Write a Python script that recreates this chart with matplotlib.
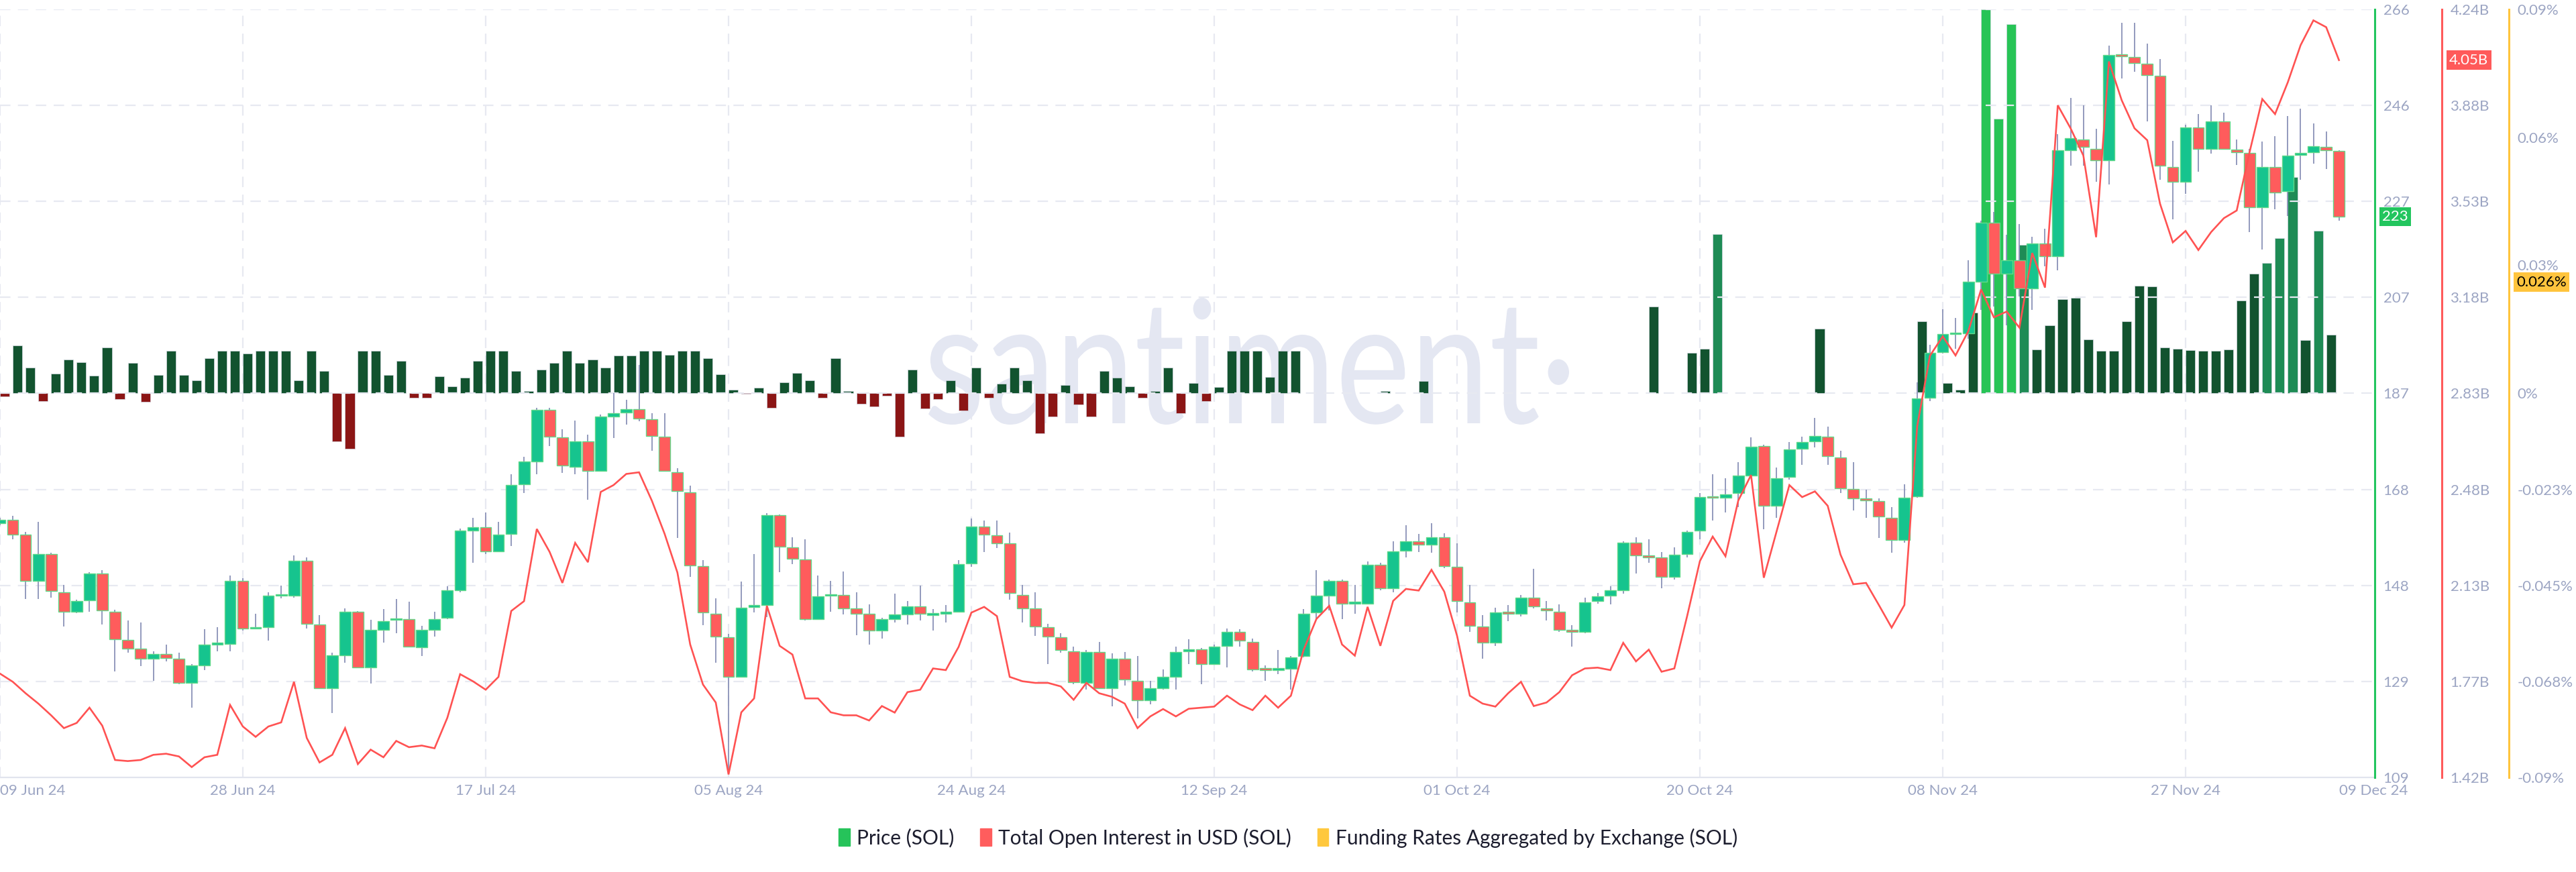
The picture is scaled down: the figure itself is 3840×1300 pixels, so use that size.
import matplotlib
matplotlib.use("Agg")
import matplotlib.pyplot as plt
from matplotlib.patches import Patch, PathPatch
from matplotlib.textpath import TextPath
from matplotlib.font_manager import FontProperties
from matplotlib.transforms import Affine2D, IdentityTransform, blended_transform_factory
import numpy as np

plt.rcParams['font.family'] = ['Lato', 'DejaVu Sans']

# ---------------- data (day index 0 = 09 Jun 24) ----------------
opens = [160.9,161.6,158.6,149.2,154.7,146.9,142.8,145.2,150.7,142.9,137.1,135.3,133.2,134.2,133.2,128.3,131.9,136.2,136.3,149.1,
         139.4,139.7,146.1,146.2,153.3,140.3,127.3,134.0,142.9,131.5,139.2,141.2,141.4,135.6,139.2,141.6,147.3,159.5,160.2,155.2,
         158.8,168.9,173.6,184.1,178.5,172.5,177.7,171.7,182.8,183.6,184.3,182.2,178.6,171.4,167.3,152.2,142.5,137.6,129.6,143.8,
         144.2,162.6,156.0,153.6,141.3,146.1,146.3,143.5,142.4,139.0,141.4,142.3,143.9,142.2,142.5,142.9,152.7,160.3,158.5,156.8,
         146.3,143.5,139.7,137.6,134.8,128.3,134.6,127.3,133.2,128.8,124.8,127.3,129.6,134.8,135.2,132.2,135.9,138.7,136.7,131.1,
         131.0,131.2,133.8,142.7,146.2,149.2,144.5,144.5,152.4,147.6,155.3,157.3,156.6,158.1,152.1,144.8,139.8,136.6,142.9,142.5,
         145.8,143.5,142.9,139.1,138.7,145.1,146.1,147.2,157.0,154.4,153.9,150.0,154.7,159.4,166.5,166.1,167.1,170.7,176.7,164.5,
         170.4,176.2,177.7,178.7,174.4,168.0,166.0,165.5,162.1,157.5,166.4,186.6,195.9,199.6,199.8,210.3,222.3,212.0,214.7,209.0,
         218.1,215.5,237.2,239.4,237.5,235.1,256.7,256.2,254.8,252.4,233.8,230.7,241.9,237.5,243.0,237.3,236.6,225.5,233.8,228.8,
         236.2,236.8,237.9,237.0]
highs = [162.0,162.4,159.2,161.2,154.9,148.4,145.3,150.9,151.3,143.3,141.1,140.6,134.8,136.1,134.5,132.1,139.3,139.7,150.2,149.7,
         142.5,146.9,148.2,154.4,153.9,142.2,134.5,143.6,143.0,141.2,143.4,145.5,144.9,140.0,142.9,148.1,159.8,162.1,163.1,161.2,
         171.0,174.5,184.5,184.5,180.1,181.9,179.0,183.2,187.5,186.2,193.3,183.5,183.5,172.2,168.6,153.4,145.6,138.4,149.0,154.7,
         163.0,162.8,158.1,157.6,150.3,149.2,151.1,146.9,144.3,141.6,146.6,145.0,148.2,143.4,144.2,153.4,161.9,161.5,161.5,159.1,
         148.4,146.9,140.4,138.5,135.7,135.0,136.7,134.3,134.6,133.8,128.8,131.1,135.7,137.2,135.4,136.2,139.5,139.3,137.4,131.9,
         135.0,133.8,143.4,151.3,149.5,149.5,148.4,153.1,152.9,157.3,160.5,158.7,161.0,158.9,156.8,148.4,142.2,143.7,144.2,146.3,
         151.6,145.1,144.4,140.1,145.8,146.7,148.1,157.3,158.1,157.6,155.0,156.0,159.4,167.1,170.9,170.1,173.4,178.5,177.0,172.3,
         177.5,178.6,182.5,180.7,175.7,173.4,167.8,166.0,164.2,168.9,189.8,197.4,204.7,202.9,214.7,222.8,224.6,219.9,222.1,219.5,
         221.1,240.4,247.8,246.4,241.5,258.5,263.2,263.2,259.0,255.8,239.1,242.4,244.6,246.4,244.8,239.3,237.5,238.9,240.1,244.1,
         245.7,242.7,241.0,237.2]
lows = [160.5,157.6,145.5,145.5,145.8,139.9,142.6,142.8,140.3,130.6,134.5,131.7,128.7,132.7,128.0,123.3,130.9,134.8,134.8,139.0,
        139.3,136.9,145.6,145.8,139.4,127.2,122.2,132.4,131.3,128.2,136.5,138.5,135.6,133.8,137.8,141.3,146.9,152.8,154.7,155.0,
        156.3,167.1,171.0,176.7,171.2,171.0,165.7,171.5,178.3,181.1,181.8,175.7,171.7,157.9,150.0,140.1,132.4,109.7,129.6,142.7,
        141.8,151.0,152.6,141.1,141.3,142.9,142.3,138.0,136.1,137.4,140.6,140.3,141.1,139.0,140.6,142.7,152.1,155.0,155.9,145.3,
        140.6,137.9,132.2,134.5,128.0,127.0,127.3,123.5,127.8,121.0,124.0,127.0,127.0,132.2,128.0,132.0,131.5,135.7,130.6,128.7,
        130.1,127.0,133.6,141.1,143.2,141.3,142.4,144.3,147.2,146.9,153.9,155.0,154.9,151.8,142.7,138.8,133.2,135.9,140.9,141.9,
        143.5,141.1,138.8,135.7,138.5,144.5,144.3,146.6,150.7,152.8,147.7,149.5,153.9,157.6,161.5,163.1,164.2,170.5,159.7,162.1,
        169.9,172.9,176.5,172.9,167.1,163.6,162.0,157.9,154.9,157.0,166.2,185.9,195.6,196.6,198.7,204.5,205.3,201.4,207.3,204.5,
        213.4,212.6,234.0,234.0,230.7,230.2,251.9,253.2,243.1,231.2,223.1,228.3,232.8,236.5,237.3,234.2,220.5,216.9,225.1,223.7,
        231.2,234.4,233.3,222.8]
closes = [161.6,158.6,149.2,154.7,147.1,142.9,145.1,150.7,143.1,137.3,135.3,133.3,134.2,133.4,128.3,131.9,136.2,136.3,149.1,139.4,
          139.6,146.1,146.3,153.3,140.4,127.3,134.0,142.9,131.5,139.1,141.0,141.5,135.7,139.1,141.4,147.2,159.4,160.2,155.2,158.6,
          168.8,173.5,184.1,178.6,172.7,177.7,171.7,182.7,183.5,184.3,182.3,178.8,171.7,167.5,152.3,142.7,137.8,129.6,143.7,144.2,
          162.6,156.2,153.7,141.3,146.0,146.3,143.6,142.5,139.0,141.4,142.3,143.9,142.4,142.3,142.9,152.6,160.3,158.6,156.8,146.7,
          143.6,139.8,137.8,135.0,128.5,134.6,127.3,133.2,129.0,124.8,127.3,129.6,134.6,135.2,132.2,135.7,138.7,136.9,131.1,131.0,
          131.2,133.6,142.5,146.1,149.2,144.5,144.6,152.4,147.7,155.2,157.3,156.6,158.1,152.2,145.1,140.0,136.6,142.7,142.5,145.8,
          144.0,143.2,139.2,138.8,144.8,146.0,147.2,157.0,154.4,154.0,150.0,154.5,159.2,166.3,166.1,166.9,170.7,176.6,164.5,170.2,
          176.1,177.6,178.8,174.6,168.1,166.0,165.6,162.3,157.5,166.2,186.5,195.8,199.6,199.9,210.3,222.3,212.0,214.7,209.0,218.1,
          215.5,237.2,239.6,237.8,235.1,256.7,256.4,255.0,252.5,234.0,230.7,241.9,237.5,243.0,237.5,236.8,225.5,233.8,228.6,236.1,
          236.6,238.0,237.2,223.6]
open_interest_b = [1.801,1.771,1.729,1.691,1.648,1.601,1.620,1.676,1.610,1.484,1.480,1.484,1.503,1.507,1.497,1.458,1.494,1.503,1.686,1.607,
                   1.569,1.607,1.622,1.771,1.565,1.475,1.503,1.601,1.469,1.522,1.494,1.554,1.531,1.537,1.527,1.639,1.799,1.773,1.742,1.789,
                   2.031,2.067,2.332,2.248,2.134,2.281,2.210,2.468,2.493,2.534,2.540,2.436,2.314,2.172,1.908,1.761,1.695,1.431,1.659,1.710,
                   2.050,1.903,1.871,1.710,1.710,1.659,1.648,1.648,1.629,1.682,1.658,1.733,1.742,1.820,1.814,1.899,2.025,2.046,2.012,1.789,
                   1.773,1.767,1.767,1.754,1.705,1.767,1.729,1.716,1.691,1.601,1.644,1.671,1.644,1.672,1.676,1.680,1.720,1.688,1.667,1.720,
                   1.676,1.720,1.889,2.002,2.050,1.908,1.867,2.046,1.903,2.068,2.112,2.106,2.182,2.102,1.940,1.720,1.691,1.680,1.729,1.771,
                   1.682,1.695,1.733,1.795,1.820,1.823,1.814,1.914,1.846,1.889,1.808,1.820,2.012,2.214,2.304,2.232,2.436,2.530,2.153,2.323,
                   2.493,2.449,2.470,2.417,2.238,2.129,2.134,2.053,1.970,2.053,2.709,2.968,3.039,2.969,3.058,3.211,3.109,3.130,3.071,3.345,
                   3.218,3.887,3.803,3.703,3.403,4.048,3.906,3.803,3.759,3.526,3.384,3.426,3.356,3.422,3.473,3.501,3.714,3.910,3.855,3.972,
                   4.108,4.199,4.174,4.053]
N = None
funding_pct = [-0.0007,0.0112,0.0061,-0.0018,0.0046,0.0079,0.0073,0.0041,0.0108,-0.0013,0.0072,-0.0020,0.0043,0.0100,0.0043,0.0031,0.0082,0.0100,0.0100,0.0094,
               0.0100,0.0100,0.0100,0.0030,0.0100,0.0052,-0.0112,-0.0130,0.0100,0.0100,0.0043,0.0076,-0.0010,-0.0010,0.0040,0.0016,0.0037,0.0076,0.0100,0.0100,
               0.0053,0.0005,0.0056,0.0072,0.0100,0.0072,0.0079,0.0061,0.0088,0.0089,0.0100,0.0100,0.0090,0.0100,0.0100,0.0082,0.0044,0.0008,-0.0001,0.0013,
               -0.0034,0.0026,0.0048,0.0031,-0.0010,0.0082,0.0006,-0.0024,-0.0031,-0.0005,-0.0101,0.0056,-0.0036,-0.0013,0.0031,-0.0041,0.0061,-0.0011,0.0023,0.0060,
               0.0031,-0.0093,-0.0055,0.0020,-0.0026,-0.0055,0.0053,0.0037,0.0016,-0.0010,0.0006,0.0061,-0.0046,0.0024,-0.0018,0.0014,0.0100,0.0100,0.0100,0.0038,
               0.0100,0.0100,N,N,N,N,N,N,0.0005,N,N,0.0029,N,N,N,N,N,N,N,N,
               N,N,N,N,N,N,N,N,N,0.0204,N,N,0.0095,0.0105,0.0373,N,N,N,N,N,
               N,N,0.0151,N,N,N,N,N,N,N,0.0168,N,0.0024,0.0008,0.0189,0.0900,0.0644,0.0865,0.0348,0.0103,
               0.0160,0.0220,0.0223,0.0126,0.0100,0.0100,0.0169,0.0252,0.0251,0.0108,0.0105,0.0101,0.0100,0.0100,0.0102,0.0217,0.0281,0.0305,0.0364,0.0506,
               0.0124,0.0381,0.0138,N]

date_ticks = [0, 19, 38, 57, 76, 95, 114, 133, 152, 171, 183]
date_labels = ["09 Jun 24", "28 Jun 24", "17 Jul 24", "05 Aug 24", "24 Aug 24", "12 Sep 24",
               "01 Oct 24", "20 Oct 24", "08 Nov 24", "27 Nov 24", "09 Dec 24"]
price_ticks = [109, 128.625, 148.25, 167.875, 187.5, 207.125, 226.75, 246.375, 266]
price_labels = ["109", "129", "148", "168", "187", "207", "227", "246", "266"]
oi_ticks = [1.42, 1.7725, 2.125, 2.4775, 2.83, 3.1825, 3.535, 3.8875, 4.24]
oi_labels = ["1.42B", "1.77B", "2.13B", "2.48B", "2.83B", "3.18B", "3.53B", "3.88B", "4.24B"]
fr_ticks = [-0.09, -0.0675, -0.045, -0.0225, 0, 0.03, 0.06, 0.09]
fr_labels = ["-0.09%", "-0.068%", "-0.045%", "-0.023%", "0%", "0.03%", "0.06%", "0.09%"]
last_price_label = "223"
last_oi_label, last_oi = "4.05B", 4.053
last_fr_label, last_fr = "0.026%", 0.026

# ---------------- styling ----------------
W, H = 3840, 1300
C_UP, C_DN, C_EDGE, C_WICK = "#16c48e", "#ff5c5c", "#62d98a", "#8a92b8"
C_OI = "#ff5252"
C_TICK = "#9ca5c3"
C_GRID = "#e7e9f1"
TICK_FS = 16

fig = plt.figure(figsize=(W / 100, H / 100), dpi=100)
fig.patch.set_facecolor("white")
left, right, top, bottom = 0, 3540, 13.7, 1159
rect = [left / W, 1 - bottom / H, (right - left) / W, (bottom - top) / H]
ax_f = fig.add_axes(rect)
ax_p = fig.add_axes(rect)
ax_o = fig.add_axes(rect)
ax_f.set_zorder(1); ax_p.set_zorder(2); ax_o.set_zorder(3)
for a in (ax_p, ax_o):
    a.patch.set_visible(False)
for a in (ax_f, ax_p, ax_o):
    for s in a.spines.values():
        s.set_visible(False)
    a.set_xlim(0, 185.8)

x = np.arange(len(closes))

# grid (in bottom axes)
ax_f.set_ylim(-0.09, 0.09)
gtr = blended_transform_factory(ax_f.transData, ax_f.transAxes)
for t in date_ticks[:-1]:
    ax_f.plot([t, t], [0, 1], transform=gtr, color=C_GRID, lw=1.6, ls=(0, (7, 5)), zorder=0.3)
ax_p.set_ylim(109, 266)
ptr = blended_transform_factory(ax_p.transAxes, ax_p.transData)
for t in price_ticks[1:]:
    ax_p.plot([0, 1], [t, t], transform=ptr, color=C_GRID, lw=1.6, ls=(0, (7, 5)), zorder=0.3)
ax_p.plot([0, 1], [109, 109], transform=ptr, color="#e1e4ee", lw=1.6, zorder=0.3, clip_on=False)

# watermark
fp = FontProperties(family="Lato")
tp = TextPath((0, 0), "santiment\u00b7", size=100, prop=fp)
ext = tp.get_extents()
xh = TextPath((0, 0), "x", size=100, prop=fp).get_extents().height
sx, sy = 955 / ext.width, 130 / xh
tr = Affine2D().translate(-ext.x0, 0).scale(sx, sy).translate(1384, H - 631)
wm = PathPatch(tr.transform_path(tp), fc="#e4e7f2", ec="none", transform=IdentityTransform(), zorder=0.5)
ax_f.add_artist(wm)

# funding bars
fx, fv, fc = [], [], []
for i, v in enumerate(funding_pct):
    if v is None:
        continue
    fx.append(i); fv.append(v)
    if v < 0:
        fc.append("#8b1515")
    elif v < 0.03:
        fc.append("#12532f")
    elif v < 0.06:
        fc.append("#1e8b55")
    else:
        fc.append("#27c456")
ax_f.bar(fx, fv, width=0.74, align="edge", color=fc, edgecolor="#d4d8e2", linewidth=0.5, zorder=2)

# candles
o = np.array(opens); c = np.array(closes); h = np.array(highs); l = np.array(lows)
up = c >= o
ax_p.vlines(x, l, h, color=C_WICK, lw=1.3, zorder=2)
body_lo = np.minimum(o, c)
body_h = np.maximum(np.abs(c - o), 0.35)
ax_p.bar(x, body_h, bottom=body_lo, width=0.88, color=np.where(up, C_UP, C_DN),
         edgecolor=C_EDGE, linewidth=1.0, zorder=3)

# open interest
ax_o.set_ylim(1.42, 4.24)
ax_o.plot(x, open_interest_b, color=C_OI, lw=1.9, zorder=4, solid_joinstyle="miter")

# axes / ticks
for a, ticks, labels, col, pos in ((ax_p, price_ticks, price_labels, "#22c55e", 1.0),
                                   (ax_o, oi_ticks, oi_labels, "#ff5a5a", 3640 / 3540),
                                   (ax_f, fr_ticks, fr_labels, "#ffc43d", 3740 / 3540)):
    a.yaxis.tick_right()
    a.spines["right"].set_visible(True)
    a.spines["right"].set_position(("axes", pos))
    a.spines["right"].set_color(col)
    a.spines["right"].set_linewidth(2.2)
    a.set_yticks(ticks)
    a.set_yticklabels(labels)
    a.tick_params(axis="y", length=0, pad=9, labelsize=TICK_FS, labelcolor=C_TICK)
    a.set_xticks([])

ax_p.set_xticks(date_ticks)
ax_p.set_xticklabels(date_labels)
ax_p.tick_params(axis="x", length=0, pad=7, labelsize=TICK_FS, labelcolor=C_TICK)
xl = ax_p.get_xticklabels()
xl[0].set_ha("left")
xl[-1].set_ha("left")

# last-value tags
ax_p.text(1 + 11 / 3540, closes[-1], last_price_label,
          transform=ptr, ha="left", va="center", color="white", fontsize=TICK_FS,
          bbox=dict(boxstyle="square,pad=0.2", fc="#22c55e", ec="none"), clip_on=False)
ax_o.text(1 + 111 / 3540, last_oi, last_oi_label,
          transform=blended_transform_factory(ax_o.transAxes, ax_o.transData),
          ha="left", va="center", color="white", fontsize=TICK_FS,
          bbox=dict(boxstyle="square,pad=0.2", fc="#ff5a5a", ec="none"), clip_on=False)
ax_f.text(1 + 211 / 3540, last_fr, last_fr_label,
          transform=blended_transform_factory(ax_f.transAxes, ax_f.transData),
          ha="left", va="center", color="black", fontsize=TICK_FS,
          bbox=dict(boxstyle="square,pad=0.2", fc="#ffc43d", ec="none"), clip_on=False)

# legend
handles = [Patch(color="#26c35a", label="Price (SOL)"),
           Patch(color="#ff5d5d", label="Total Open Interest in USD (SOL)"),
           Patch(color="#ffc83d", label="Funding Rates Aggregated by Exchange (SOL)")]
fig.legend(handles=handles, loc="center", bbox_to_anchor=(0.5, 1 - 1249 / H), ncol=3, frameon=False,
           fontsize=21.5, handlelength=0.55, handleheight=0.95, handletextpad=0.35, columnspacing=1.3,
           labelcolor="#1c1d2e")

fig.savefig("out.png", dpi=100)
